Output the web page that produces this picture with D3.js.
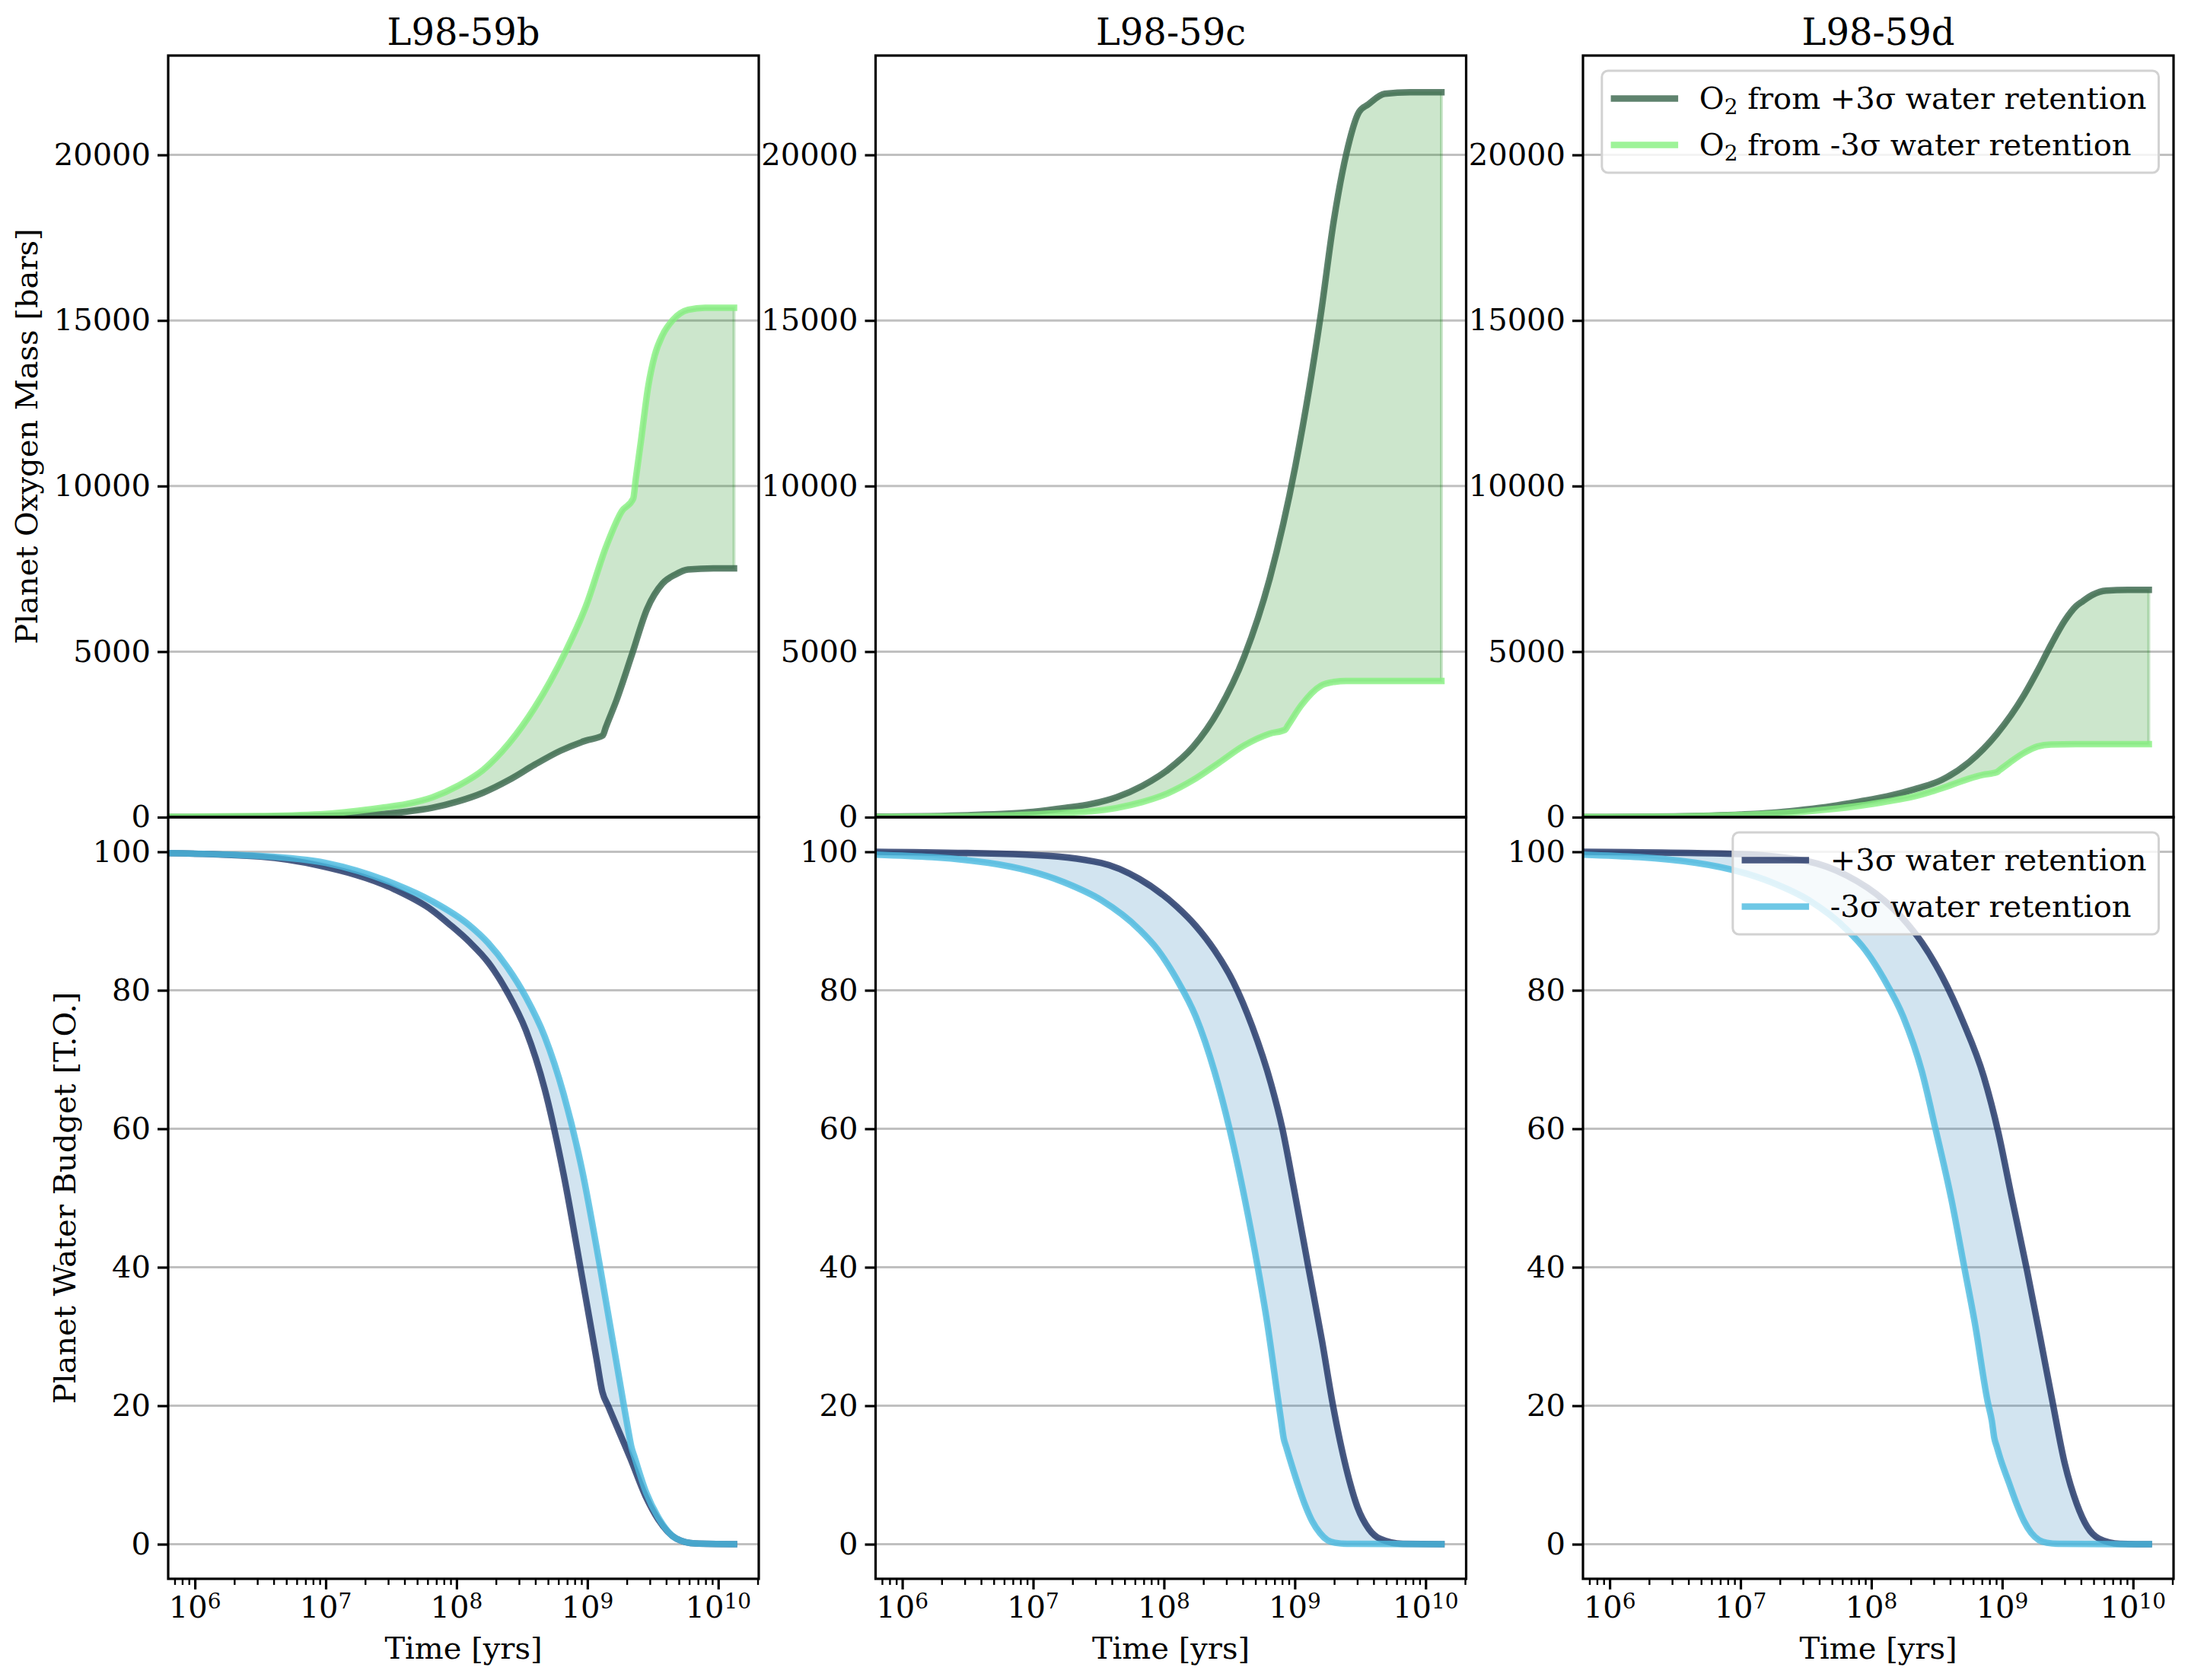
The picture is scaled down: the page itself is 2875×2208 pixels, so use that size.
<!DOCTYPE html>
<html lang="en">
<head>
<meta charset="utf-8">
<title>L98-59: oxygen build-up and water loss</title>
<script src="https://cdn.jsdelivr.net/npm/d3@7"></script>
<style>
  body { margin: 0; background: #fff; overflow: hidden; }
  text { font-family: "DejaVu Serif", serif; fill: #000; }
</style>
</head>
<body>
<script>

// ---------------- data (time in yrs) ----------------

var panelTitles = ["L98-59b", "L98-59c", "L98-59d"];
var o2Ticks = [0, 5000, 10000, 15000, 20000];
var waterTicks = [0, 20, 40, 60, 80, 100];
var timeTicks = [1e6, 1e7, 1e8, 1e9, 1e10];

// L98-59b, oxygen [bars]
var bO2HiYears = [6.25e5, 3.16e6, 1e7, 2.65e7, 4.16e7, 6.52e7, 1.02e8, 1.60e8, 2.52e8, 3.95e8, 6.21e8, 9.73e8, 1.31e9, 1.38e9, 1.67e9, 2.19e9, 2.86e9, 3.75e9, 4.69e9, 5.87e9, 9.23e9, 1.32e10];
var bO2Hi      = [5, 15, 40, 92, 168, 283, 474, 742, 1125, 1584, 2005, 2312, 2465, 2705, 3536, 4913, 6291, 7056, 7324, 7477, 7515, 7515];
var bO2LoYears = [6.25e5, 3.16e6, 1e7, 2.65e7, 4.16e7, 6.52e7, 1.02e8, 1.60e8, 2.52e8, 3.95e8, 6.79e8, 9.73e8, 1.40e9, 1.83e9, 2.24e9, 2.34e9, 2.57e9, 2.92e9, 3.27e9, 3.75e9, 4.50e9, 5.89e9, 7.94e9, 1.32e10];
var bO2Lo      = [10, 35, 100, 283, 398, 597, 941, 1431, 2234, 3306, 4990, 6367, 8204, 9237, 9620, 10200, 11380, 13026, 13944, 14557, 15016, 15322, 15385, 15385];
// L98-59b, water [T.O.]
var bWaterHiYears = [6.25e5, 3.16e6, 8.91e6, 3.33e7, 6.46e7, 9.0e7, 1.25e8, 1.75e8, 2.43e8, 3.39e8, 4.72e8, 6.58e8, 9.16e8, 1.175e9, 1.30e9, 1.445e9, 2.13e9, 2.82e9, 3.47e9, 4.79e9, 6.68e9, 1.32e10];
var bWaterHi      = [99.8, 99.3, 98.0, 94.6, 91.6, 89.4, 87.0, 84.0, 79.8, 74.2, 65.7, 53.4, 38.3, 26.7, 22, 19.9, 12.4, 6.7, 3.6, 0.8, 0.1, 0];
var bWaterLoYears = [6.25e5, 3.16e6, 1e7, 3.33e7, 6.46e7, 1.25e8, 1.75e8, 2.43e8, 3.39e8, 4.72e8, 6.58e8, 9.16e8, 1.25e9, 1.90e9, 2.04e9, 2.17e9, 2.29e9, 2.82e9, 3.47e9, 4.79e9, 6.68e9, 1.32e10];
var bWaterLo      = [99.8, 99.4, 98.4, 95.4, 92.9, 89.4, 86.8, 83.4, 79.0, 73.3, 65.0, 53.8, 40, 20, 16.7, 14, 12.6, 7.4, 3.9, 0.8, 0.1, 0];

// L98-59c, oxygen
var cO2HiYears = [6.25e5, 3.16e6, 1e7, 1.77e7, 2.77e7, 4.35e7, 6.82e7, 1.07e8, 1.67e8, 2.62e8, 4.11e8, 6.44e8, 1.01e9, 1.58e9, 1.98e9, 2.48e9, 3.10e9, 3.63e9, 4.86e9, 7.62e9, 1.32e10];
var cO2Hi      = [15, 60, 160, 280, 398, 605, 944, 1430, 2124, 3230, 4853, 7213, 10605, 15178, 17980, 20045, 21300, 21520, 21845, 21890, 21890];
var cO2LoYears = [6.25e5, 3.16e6, 1e7, 1.77e7, 2.77e7, 4.35e7, 6.82e7, 1.07e8, 1.67e8, 2.62e8, 4.11e8, 6.44e8, 8.43e8, 8.91e8, 1.12e9, 1.58e9, 2.0e9, 2.48e9, 1.32e10];
var cO2Lo      = [8, 30, 80, 133, 177, 280, 457, 722, 1121, 1637, 2168, 2522, 2640, 2783, 3378, 3968, 4085, 4115, 4115];
// L98-59c, water
var cWaterHiYears = [6.25e5, 8.91e6, 3.31e7, 6.46e7, 1.25e8, 1.75e8, 2.43e8, 3.39e8, 4.72e8, 6.58e8, 8.02e8, 9.77e8, 1.27e9, 1.61e9, 1.96e9, 2.47e9, 3.02e9, 3.68e9, 4.49e9, 6.68e9, 1.32e10];
var cWaterHi      = [100, 99.6, 98.4, 96.1, 92.1, 89.3, 85.8, 81.2, 74.8, 66.5, 60.1, 51.7, 40.0, 29.5, 20.0, 11.0, 5.3, 2.2, 0.77, 0.05, 0];
var cWaterLoYears = [6.25e5, 4.56e6, 1.72e7, 3.33e7, 6.46e7, 9.0e7, 1.25e8, 1.75e8, 2.43e8, 3.17e8, 4.13e8, 5.21e8, 6.15e8, 7.50e8, 7.85e8, 8.22e8, 8.61e8, 9.16e8, 1.04e9, 1.19e9, 1.36e9, 1.56e9, 1.77e9, 2.03e9, 2.51e9, 1.32e10];
var cWaterLo      = [99.6, 98.4, 95.6, 93.0, 88.8, 85.8, 81.6, 76.2, 68.3, 60.0, 50.0, 40.0, 32.0, 20.5, 17.9, 15.3, 14.0, 12.3, 9.0, 5.8, 3.3, 1.6, 0.6, 0.2, 0.05, 0];

// L98-59d, oxygen
var dO2HiYears = [6.25e5, 3.16e6, 1.18e7, 1.91e7, 3.10e7, 5.02e7, 8.13e7, 1.32e8, 2.13e8, 3.45e8, 5.58e8, 9.06e8, 1.47e9, 1.86e9, 2.37e9, 3.02e9, 3.66e9, 4.13e9, 4.89e9, 6.22e9, 1.01e10, 1.32e10];
var dO2Hi      = [5, 25, 92, 145, 230, 337, 474, 627, 842, 1125, 1660, 2503, 3689, 4415, 5219, 5947, 6367, 6521, 6712, 6842, 6865, 6865];
var dO2LoYears = [6.25e5, 3.16e6, 1.18e7, 1.91e7, 3.10e7, 5.02e7, 8.13e7, 1.32e8, 2.13e8, 3.45e8, 5.58e8, 7.11e8, 9.06e8, 9.55e8, 1.15e9, 1.47e9, 1.86e9, 2.37e9, 3.66e9, 1.32e10];
var dO2Lo      = [3, 20, 77, 115, 168, 245, 344, 474, 627, 872, 1163, 1278, 1355, 1422, 1660, 1944, 2135, 2197, 2205, 2205];
// L98-59d, water
var dWaterHiYears = [6.25e5, 8.91e6, 3.31e7, 6.46e7, 1.25e8, 1.75e8, 2.43e8, 3.47e8, 5.01e8, 7.24e8, 9.33e8, 1.17e9, 1.55e9, 1.95e9, 2.40e9, 3.02e9, 3.72e9, 4.47e9, 5.50e9, 7.94e9, 1.32e10];
var dWaterHi      = [100, 99.7, 98.6, 96.6, 93.0, 90.3, 86.9, 82.0, 75.5, 67.5, 59.5, 50.5, 39.5, 29.9, 21.0, 11.5, 5.8, 2.5, 0.8, 0.05, 0];
var dWaterLoYears = [6.25e5, 4.56e6, 1.72e7, 3.33e7, 6.46e7, 9.0e7, 1.25e8, 1.75e8, 2.43e8, 3.09e8, 4.07e8, 5.13e8, 6.17e8, 7.76e8, 8.32e8, 8.71e8, 9.12e8, 9.70e8, 1.12e9, 1.29e9, 1.47e9, 1.67e9, 1.91e9, 2.19e9, 2.69e9, 1.32e10];
var dWaterLo      = [99.6, 98.4, 95.6, 93.0, 88.8, 85.8, 81.6, 76.2, 68.3, 60.0, 50.0, 40.0, 32.0, 20.5, 17.9, 15.3, 14.0, 12.3, 9.0, 5.8, 3.3, 1.6, 0.6, 0.2, 0.05, 0];

// ---------------- layout ----------------

var svgWidth = 2875, svgHeight = 2208;
var panelW = 776, panelH = 1001;
var lefts = [221, 1150.5, 2080];
var tops = [73, 1074];

var xDomain = [6.25e5, 2.04e10];
var o2Domain = [0, 23000];
var waterDomain = [-5, 105];

var o2HiColor = "#37644a", o2LoColor = "#86f07f", o2Fill = "green";
var wHiColor = "#1e3163", wLoColor = "#4abae0", wFill = "#1f77b4";
var lineW = 8.5, lineAlpha = 0.8;

function pts(t, v) { return t.map(function(d, i) { return [d, v[i]]; }); }

var panels = [
    {o2Hi: pts(bO2HiYears, bO2Hi), o2Lo: pts(bO2LoYears, bO2Lo), wHi: pts(bWaterHiYears, bWaterHi), wLo: pts(bWaterLoYears, bWaterLo)},
    {o2Hi: pts(cO2HiYears, cO2Hi), o2Lo: pts(cO2LoYears, cO2Lo), wHi: pts(cWaterHiYears, cWaterHi), wLo: pts(cWaterLoYears, cWaterLo)},
    {o2Hi: pts(dO2HiYears, dO2Hi), o2Lo: pts(dO2LoYears, dO2Lo), wHi: pts(dWaterHiYears, dWaterHi), wLo: pts(dWaterLoYears, dWaterLo)}
];

var svg = d3.select("body").append("svg")
    .attr("width", svgWidth)
    .attr("height", svgHeight);

var x = d3.scaleLog().domain(xDomain).range([0, panelW]);
var yO2 = d3.scaleLinear().domain(o2Domain).range([panelH, 0]);
var yWater = d3.scaleLinear().domain(waterDomain).range([panelH, 0]);

// minor ticks 2..9 x 10^k inside the domain
var minorTicks = [];
for (var k = 5; k <= 10; k++) {
    for (var m = 2; m <= 9; m++) {
        var v = m * Math.pow(10, k);
        if (v >= xDomain[0] && v <= xDomain[1]) minorTicks.push(v);
    }
}

function drawPanel(g, id, y, yTicks, hi, lo, hiColor, loColor, fillColor, showX) {
    g.append("clipPath").attr("id", id)
      .append("rect").attr("width", panelW).attr("height", panelH);

    // grid
    g.selectAll(".grid").data(yTicks).enter().append("line")
        .attr("x1", 0).attr("x2", panelW)
        .attr("y1", function(d) { return y(d); })
        .attr("y2", function(d) { return y(d); })
        .attr("stroke", "#c0c0c0")
        .attr("stroke-width", 3);

    var line = d3.line()
        .x(function(d) { return x(d[0]); })
        .y(function(d) { return y(d[1]); })
        .curve(d3.curveMonotoneX);

    var plot = g.append("g").attr("clip-path", "url(#" + id + ")");

    // band between the two runs
    var band = line(hi) + line(lo.slice().reverse()).replace(/^M/, "L") + "Z";
    plot.append("path")
        .attr("d", band)
        .attr("fill", fillColor).attr("fill-opacity", 0.2)
        .attr("stroke", fillColor).attr("stroke-opacity", 0.2)
        .attr("stroke-width", 4);

    [[hi, hiColor], [lo, loColor]].forEach(function(s) {
        plot.append("path")
            .attr("d", line(s[0]))
            .attr("fill", "none")
            .attr("stroke", s[1])
            .attr("stroke-opacity", lineAlpha)
            .attr("stroke-width", lineW)
            .attr("stroke-linecap", "square")
            .attr("stroke-linejoin", "round");
    });

    // y axis
    var ya = g.append("g")
        .call(d3.axisLeft(y).tickValues(yTicks).tickSize(14).tickPadding(9).tickFormat(d3.format("d")))
        .attr("font-size", 40)
        .attr("font-family", "DejaVu Serif");
    ya.select(".domain").remove();
    ya.selectAll(".tick line").attr("stroke-width", 3.2);

    if (showX) {
        var xa = g.append("g").attr("transform", "translate(0," + panelH + ")")
            .call(d3.axisBottom(x).tickValues(timeTicks).tickSize(14).tickFormat(""));
        xa.select(".domain").remove();
        xa.selectAll(".tick line").attr("stroke-width", 3.2);

        var xm = g.append("g").attr("transform", "translate(0," + panelH + ")")
            .call(d3.axisBottom(x).tickValues(minorTicks).tickSize(8).tickFormat(""));
        xm.select(".domain").remove();
        xm.selectAll(".tick line").attr("stroke-width", 2.4);

        var lab = g.selectAll(".xlab").data(timeTicks).enter().append("text")
            .attr("x", function(d) { return x(d); })
            .attr("y", panelH + 51)
            .attr("text-anchor", "middle")
            .attr("font-size", 40);
        lab.append("tspan").text("10");
        lab.append("tspan")
            .attr("font-size", 28)
            .attr("dy", -12)
            .text(function(d) { return Math.round(Math.log10(d)); });
    }

    // spines
    g.append("rect")
        .attr("width", panelW).attr("height", panelH)
        .attr("fill", "none").attr("stroke", "#000").attr("stroke-width", 3.2);
}

function drawLegend(g, items) {
    var lg = g.append("g");
    var texts = items.map(function(it) {
        var t = lg.append("text").attr("font-size", 40);
        it.parts.forEach(function(p) {
            var ts = t.append("tspan").text(p.t);
            if (p.sub) ts.attr("font-size", 28).attr("dy", 7);
            else if (p.after) ts.attr("dy", -7);
        });
        return t;
    });
    var maxW = d3.max(texts, function(t) { return t.node().getComputedTextLength(); });
    var boxW = 16 + 80 + 32 + maxW + 16;
    var boxH = 16 * 2 + 41 * items.length + 20 * (items.length - 1);
    var boxX = panelW - 19.5 - boxW, boxY = 20;

    lg.insert("rect", ":first-child")
        .attr("x", boxX).attr("y", boxY)
        .attr("width", boxW).attr("height", boxH)
        .attr("rx", 8).attr("ry", 8)
        .attr("fill", "#fff").attr("fill-opacity", 0.8)
        .attr("stroke", "#d2d2d2").attr("stroke-width", 3);

    items.forEach(function(it, r) {
        var cy = boxY + 16 + 20.5 + r * 61;
        lg.append("line")
            .attr("x1", boxX + 16).attr("x2", boxX + 96)
            .attr("y1", cy).attr("y2", cy)
            .attr("stroke", it.color).attr("stroke-opacity", lineAlpha)
            .attr("stroke-width", lineW).attr("stroke-linecap", "square");
        texts[r].attr("x", boxX + 128).attr("y", cy + 13.5);
    });
}

panels.forEach(function(p, i) {
    var gTop = svg.append("g").attr("transform", "translate(" + lefts[i] + "," + tops[0] + ")");
    drawPanel(gTop, "clipTop" + i, yO2, o2Ticks, p.o2Hi, p.o2Lo, o2HiColor, o2LoColor, o2Fill, false);

    var gBot = svg.append("g").attr("transform", "translate(" + lefts[i] + "," + tops[1] + ")");
    drawPanel(gBot, "clipBot" + i, yWater, waterTicks, p.wHi, p.wLo, wHiColor, wLoColor, wFill, true);

    gTop.append("text")
        .attr("x", panelW / 2).attr("y", -14)
        .attr("text-anchor", "middle")
        .attr("font-size", 48)
        .text(panelTitles[i]);

    gBot.append("text")
        .attr("x", panelW / 2).attr("y", panelH + 105)
        .attr("text-anchor", "middle")
        .attr("font-size", 40)
        .text("Time [yrs]");

    if (i === 2) {
        drawLegend(gTop, [
            {color: o2HiColor, parts: [{t: "O"}, {t: "2", sub: true}, {t: " from +3σ water retention", after: true}]},
            {color: o2LoColor, parts: [{t: "O"}, {t: "2", sub: true}, {t: " from -3σ water retention", after: true}]}
        ]);
        drawLegend(gBot, [
            {color: wHiColor, parts: [{t: "+3σ water retention"}]},
            {color: wLoColor, parts: [{t: "-3σ water retention"}]}
        ]);
    }
});

// y labels
svg.append("text")
    .attr("transform", "translate(49," + (tops[0] + panelH / 2) + ") rotate(-90)")
    .attr("text-anchor", "middle")
    .attr("font-size", 40)
    .text("Planet Oxygen Mass [bars]");

svg.append("text")
    .attr("transform", "translate(99," + (tops[1] + panelH / 2) + ") rotate(-90)")
    .attr("text-anchor", "middle")
    .attr("font-size", 40)
    .text("Planet Water Budget [T.O.]");

</script>
</body>
</html>
